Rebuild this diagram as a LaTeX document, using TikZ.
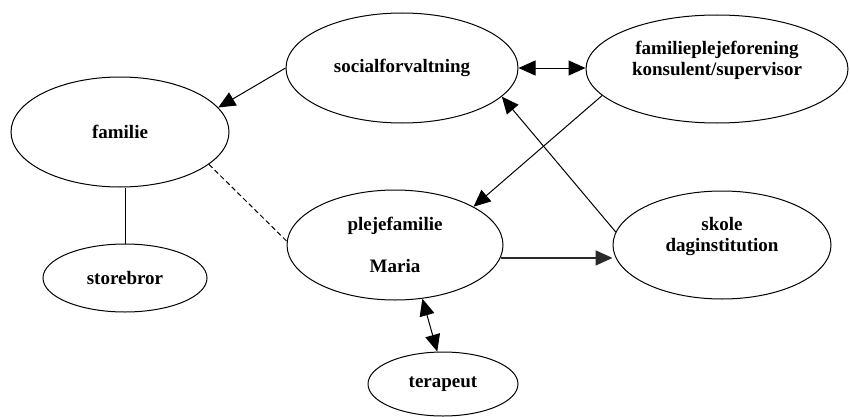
\documentclass[tikz,border=0pt]{standalone}
\usepackage{fontspec}
\setmainfont{Liberation Serif}
\usepackage{xcolor}
\usetikzlibrary{arrows.meta,shapes.geometric}
\definecolor{ink}{HTML}{000000}
\definecolor{flow}{HTML}{2A2A2A}
\tikzset{
  bubble/.style={ellipse, draw=ink, line width=1pt, inner sep=0pt, align=center,
    font=\bfseries\fontsize{19}{21.5}\selectfont},
  link/.style={draw=ink, line width=1pt},
  oneway/.style={-{Triangle[length=17pt,width=15pt]}},
  twoway/.style={{Triangle[length=17pt,width=15pt]}-{Triangle[length=17pt,width=15pt]}},
  loose/.style={draw=ink, line width=1pt, dash pattern=on 5pt off 3pt},
}
\begin{document}
\begin{tikzpicture}[x=1pt,y=1pt]
  \useasboundingbox (0,0) rectangle (850,416);

  \node[bubble, minimum width=232pt, minimum height=110pt] (soc) at (402,348) {socialforvaltning};
  \node[bubble, minimum width=262pt, minimum height=108pt] (plej) at (717,347) {familieplejeforening\\konsulent/supervisor\\\mbox{}};
  \node[bubble, minimum width=218pt, minimum height=110pt] (fam) at (120,284) {familie};
  \node[bubble, minimum width=216pt, minimum height=110pt] (pleje) at (395,171) {plejefamilie\\[21pt]Maria};
  \node[bubble, minimum width=218pt, minimum height=108pt] (skole) at (722,171) {skole\\daginstitution\\\mbox{}};
  \node[bubble, minimum width=164pt, minimum height=68pt] (bror) at (125,138) {storebror};
  \node[bubble, minimum width=150pt, minimum height=64pt] (tera) at (443,32) {terapeut};

  \draw[link,oneway] (soc.west) -- (fam.14);
  \draw[link,twoway] (soc.east) -- (soc.east -| plej.west);
  \draw[link,oneway] (plej.193) -- (pleje.26);
  \draw[link,oneway] (skole.173) -- (soc.344);
  \draw[link,oneway,draw=flow,line width=1.5pt] (pleje.-7) -- (pleje.-7 -| skole.west);
  \draw[link,twoway] (pleje.-63) -- (tera.100);
  \draw[link] (bror.north) -- (bror.north |- fam.south);
  \draw[loose] (fam.-20) -- (pleje.178);
\end{tikzpicture}
\end{document}
